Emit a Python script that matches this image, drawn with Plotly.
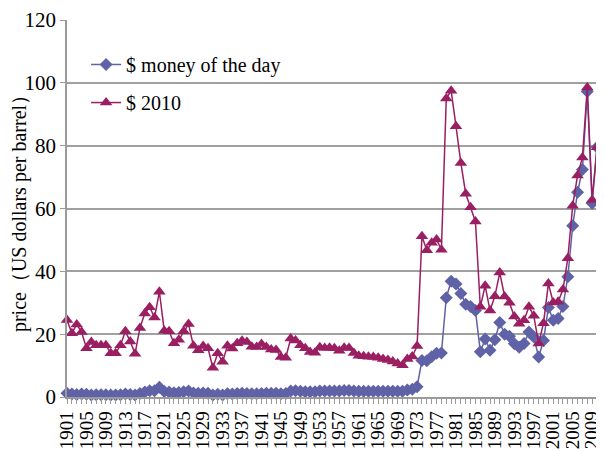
import plotly.graph_objects as go

years = list(range(1901, 2011))

money_of_the_day = [
    1.19, 0.96, 0.80, 0.94, 0.86, 0.62, 0.73, 0.72, 0.70, 0.61,
    0.61, 0.74, 0.95, 0.81, 0.64, 1.10, 1.56, 1.98, 2.01, 3.07,
    1.73, 1.61, 1.34, 1.43, 1.68, 1.88, 1.30, 1.17, 1.27, 1.19,
    0.65, 0.87, 0.67, 1.00, 0.97, 1.09, 1.18, 1.13, 1.02, 1.02,
    1.14, 1.19, 1.20, 1.21, 1.05, 1.12, 1.90, 1.99, 1.80, 1.71,
    1.71, 1.71, 1.93, 1.93, 1.93, 1.93, 1.90, 2.08, 2.08, 1.90,
    1.80, 1.80, 1.80, 1.80, 1.80, 1.80, 1.80, 1.80, 1.80, 1.80,
    2.24, 2.48, 3.29, 11.58, 11.53, 12.80, 13.92, 14.02, 31.61, 36.83,
    35.93, 32.97, 29.55, 28.78, 27.56, 14.43, 18.44, 14.92, 18.23, 23.73,
    20.00, 19.32, 16.97, 15.82, 17.02, 20.67, 19.09, 12.72, 17.97, 28.50,
    24.44, 25.02, 28.83, 38.27, 54.52, 65.14, 72.39, 97.26, 61.67, 79.50,
]

dollars_2010 = [
    24.5, 20.3, 23.1, 20.7, 15.5, 17.5, 16.5, 16.5, 16.5, 13.9,
    13.9, 16.5, 20.9, 17.7, 13.8, 22.0, 26.6, 28.6, 25.3, 33.5,
    21.1, 20.9, 17.1, 18.2, 20.9, 23.2, 16.3, 14.9, 16.2, 15.5,
    9.3, 13.9, 11.2, 16.3, 15.4, 17.1, 17.9, 17.5, 16.0, 15.9,
    16.9, 15.9, 15.1, 15.0, 12.7, 12.5, 18.6, 18.0, 16.5, 15.5,
    14.3, 14.1, 15.8, 15.6, 15.7, 15.5, 14.7, 15.7, 15.6, 14.0,
    13.1, 13.0, 12.8, 12.7, 12.5, 12.1, 11.8, 11.3, 10.7, 10.1,
    12.1, 12.9, 16.2, 51.2, 46.7, 49.1, 50.1, 46.9, 95.0, 97.5,
    86.2, 74.5, 64.7, 60.4, 55.9, 28.7, 35.4, 27.5, 32.1, 39.6,
    32.0, 30.0, 25.6, 23.3, 24.4, 28.7, 25.9, 17.0, 23.5, 36.1,
    30.1, 30.3, 34.2, 44.2, 60.9, 70.5, 76.2, 98.5, 62.7, 79.5,
]

tick_years = list(range(1901, 2010, 4))

BLUE = "#5F62A6"
MAROON = "#9A1F62"
FONT = "Times New Roman, Liberation Serif, DejaVu Serif, serif"

fig = go.Figure()
fig.add_trace(go.Scatter(
    x=years, y=money_of_the_day, name="$ money of the day",
    mode="lines+markers", cliponaxis=False, showlegend=True,
    line=dict(color=BLUE, width=1.5),
    marker=dict(symbol="diamond", size=10, color=BLUE),
    legend="legend",
))
fig.add_trace(go.Scatter(
    x=years, y=dollars_2010, name="$ 2010",
    mode="lines+markers", cliponaxis=False, showlegend=True,
    line=dict(color=MAROON, width=1.5),
    marker=dict(symbol="triangle-up", size=11, color=MAROON),
    legend="legend2",
))

fig.update_layout(
    width=596, height=443,
    margin=dict(l=59, r=7, t=12, b=54),
    paper_bgcolor="white", plot_bgcolor="white",
    font=dict(family=FONT, size=20, color="black"),
    showlegend=True,
    legend=dict(x=0.036, y=0.882, xanchor="left", yanchor="middle",
                bgcolor="rgba(0,0,0,0)", font=dict(size=20, family=FONT)),
    legend2=dict(x=0.036, y=0.781, xanchor="left", yanchor="middle",
                 bgcolor="rgba(0,0,0,0)", font=dict(size=20, family=FONT)),
)

fig.update_xaxes(
    range=[1901, 2010], tickmode="array", tickvals=tick_years,
    ticktext=[str(y) for y in tick_years], tickangle=-90,
    tickfont=dict(size=19, family=FONT), ticklabeloverflow="allow",
    automargin=False,
    showgrid=False, zeroline=False,
    showline=True, linecolor="#9A9A9A", linewidth=1.5,
    ticks="outside", ticklen=5, tickcolor="#9A9A9A",
    minor=dict(ticks="outside", dtick=1, tick0=1901, ticklen=5, tickcolor="#9A9A9A"),
)
fig.update_yaxes(
    range=[0, 120], dtick=20, tickfont=dict(size=21, family=FONT),
    ticklabeloverflow="allow", automargin=False,
    showgrid=True, gridcolor="#A0A0A0", gridwidth=1.5,
    zeroline=False, showline=True, linecolor="#9A9A9A", linewidth=1.5,
    ticks="outside", ticklen=5, tickcolor="#9A9A9A",
    title=dict(text="price（US dollars per barrel）", font=dict(size=20, family=FONT), standoff=9),
)

fig.write_html("out.html")
